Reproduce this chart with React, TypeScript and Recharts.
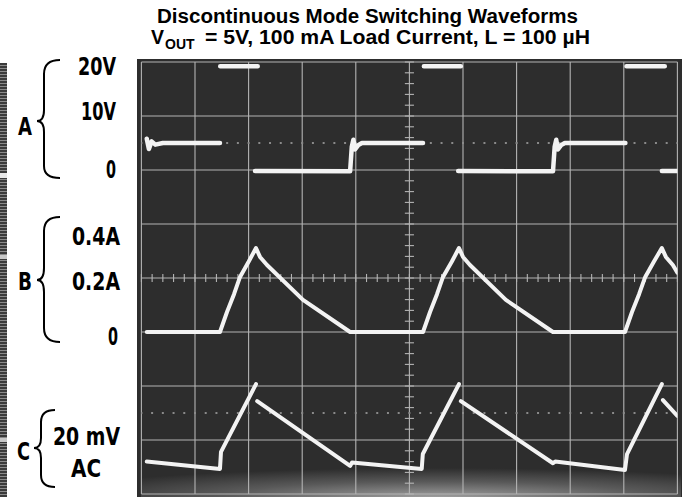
import React from 'react';
import { LineChart, Line, XAxis, YAxis, ReferenceLine } from 'recharts';

// Time axis in graticule divisions (10 divisions across the screen)
// Channel A: switch node voltage (V), 10 V/div
const aTime = [0.10, 0.14, 0.19, 0.26, 0.40, 1.466, 1.468, 1.47, 2.17, 2.171, 2.12, 3.894, 3.925, 3.955, 3.985, 4.045, 4.115, 5.254, 5.26, 5.27, 5.96, 5.961, 5.91, 7.679, 7.71, 7.74, 7.77, 7.83, 7.9, 9.03, 9.04, 9.05, 9.765, 9.766, 9.71, 10];
const aVolts = [5.8, 3.9, 5.3, 4.7, 5.0, 5.0, null, 19.2, 19.2, null, -0.2, -0.25, 4.3, 5.6, 3.8, 4.6, 5.0, 5.0, null, 19.2, 19.2, null, -0.2, -0.25, 4.3, 5.6, 3.8, 4.6, 5.0, 5.0, null, 19.2, 19.2, null, -0.2, -0.2];

// Channel B: inductor current (A), 0.2 A/div
const bTime = [0.10, 1.466, 1.597, 1.728, 1.84, 2.0, 2.138, 2.213, 2.343, 3.015, 3.894, 5.254, 5.385, 5.515, 5.627, 5.79, 5.925, 6.0, 6.13, 6.80, 7.679, 9.022, 9.153, 9.285, 9.4, 9.56, 9.71, 9.785, 9.915, 10];
const bAmps = [0, 0, 0.074, 0.14, 0.204, 0.26, 0.311, 0.278, 0.248, 0.119, 0, 0, 0.074, 0.14, 0.204, 0.26, 0.311, 0.278, 0.248, 0.119, 0, 0, 0.074, 0.14, 0.204, 0.26, 0.311, 0.278, 0.248, 0.22];

// Channel C: output ripple (mV, AC coupled), 20 mV/div
const cTime = [0.10, 1.466, 1.485, 2.138, 2.15, 2.16, 3.894, 3.93, 5.23, 5.25, 5.925, 5.94, 5.96, 7.679, 7.72, 9.022, 9.06, 9.71, 9.72, 9.73, 10];
const cMilliVolts = [-18.0, -20.7, -14.4, 10.7, null, 4.4, -19.6, -18.3, -20.7, -15.2, 10.7, null, 4.4, -18.6, -18.0, -21.1, -15.2, 10.7, null, 4.8, -1.1];

// Graticule
const gridX = [0, 1, 2, 3, 4, 5, 6, 7, 8, 9, 10];
const gridY = [0, 1, 2, 3, 4, 5, 6, 7, 8];
const minorX = Array.from({ length: 51 }, (_, i) => i / 5);
const minorY = Array.from({ length: 41 }, (_, i) => i / 5);

const aData = aTime.map((t, i) => ({ t, v: aVolts[i] }));
const bData = bTime.map((t, i) => ({ t, v: bAmps[i] }));
const cData = cTime.map((t, i) => ({ t, v: cMilliVolts[i] }));

const titleLine1 = 'Discontinuous Mode Switching Waveforms';
const titleLine2Rest = '= 5V, 100 mA Load Current, L = 100 µH';

const W = 683;
const H = 497;
const gridColor = '#b4b4b4';
const traceColor = '#f3f3f3';
const labelFont = '"DejaVu Sans Condensed", "Liberation Sans", sans-serif';

const Lbl = ({ x, y, w, anchor = 'end', children }: any) => (
  <text x={x} y={y} textAnchor={anchor} textLength={w} lengthAdjust="spacingAndGlyphs">{children}</text>
);

export default function App() {
  return (
    <div style={{ position: 'fixed', left: 0, top: 0, width: W, height: H, background: '#ffffff', overflow: 'hidden' }}>
      {/* scope screen */}
      <div style={{ position: 'absolute', left: 137, top: 59, width: 545, height: 440, background: '#2d2d2d' }} />
      <div style={{ position: 'absolute', left: 141, top: 468, width: 540, height: 30, background: 'radial-gradient(ellipse 75% 100% at 55% 100%, rgba(200,200,200,0.75) 0%, rgba(170,170,170,0.35) 55%, rgba(160,160,160,0) 100%)' }} />
      {/* left scan strip */}
      <div style={{ position: 'absolute', left: 0, top: 63, width: 7, height: 434, background: 'repeating-linear-gradient(to bottom, #3a3a3a 0px, #3a3a3a 2px, #8a8a8a 2px, #8a8a8a 3px)' }} />
      <div style={{ position: 'absolute', left: 0, top: 173, width: 7, height: 5, background: '#e8e8e8' }} />
      <div style={{ position: 'absolute', left: 0, top: 255, width: 7, height: 4, background: '#c8c8c8' }} />
      <div style={{ position: 'absolute', left: 0, top: 438, width: 7, height: 4, background: '#c8c8c8' }} />

      <div style={{ position: 'absolute', left: 0, top: 0 }}>
        <LineChart width={W} height={H} margin={{ top: 62, right: 5.6, bottom: 3, left: 141.4 }}>
          <XAxis type="number" dataKey="t" domain={[0, 10]} hide allowDataOverflow />
          <YAxis yAxisId="div" type="number" domain={[0, 8]} reversed hide allowDataOverflow />
          <YAxis yAxisId="A" type="number" domain={[-60, 20]} hide allowDataOverflow />
          <YAxis yAxisId="B" type="number" domain={[-0.6, 1.0]} hide allowDataOverflow />
          <YAxis yAxisId="C" type="number" domain={[-30, 130]} hide allowDataOverflow />

          {gridX.map((x) => (
            <ReferenceLine key={'gx' + x} yAxisId="div" x={x} stroke={gridColor} strokeWidth={1.1} />
          ))}
          {gridY.map((y) => (
            <ReferenceLine key={'gy' + y} yAxisId="div" y={y} stroke={gridColor} strokeWidth={1.1} />
          ))}
          {minorY.map((y) => (
            <ReferenceLine key={'my' + y} yAxisId="div" segment={[{ x: 4.915, y }, { x: 5.085, y }]} stroke={gridColor} strokeWidth={1.1} />
          ))}
          {minorX.map((x) => (
            <ReferenceLine key={'mx' + x} yAxisId="div" segment={[{ x, y: 3.925 }, { x, y: 4.075 }]} stroke={gridColor} strokeWidth={1.1} />
          ))}
          <ReferenceLine yAxisId="div" y={1.5} stroke="#8a8a8a" strokeWidth={2} strokeDasharray="2 8.72" strokeDashoffset={1} />
          <ReferenceLine yAxisId="div" y={6.5} stroke="#8a8a8a" strokeWidth={2} strokeDasharray="2 8.72" strokeDashoffset={1} />

          <Line data={aData} dataKey="v" yAxisId="A" type="linear" stroke={traceColor} strokeWidth={4.5} dot={false} isAnimationActive={false} strokeLinejoin="round" strokeLinecap="round" />
          <Line data={bData} dataKey="v" yAxisId="B" type="linear" stroke={traceColor} strokeWidth={4} dot={false} isAnimationActive={false} strokeLinejoin="round" strokeLinecap="round" />
          <Line data={cData} dataKey="v" yAxisId="C" type="linear" stroke={traceColor} strokeWidth={4} dot={false} isAnimationActive={false} strokeLinejoin="round" strokeLinecap="round" />
        </LineChart>
      </div>

      {/* title and channel labels */}
      <svg width={W} height={H} style={{ position: 'absolute', left: 0, top: 0, pointerEvents: 'none' }}>
        <g fontFamily='"Liberation Sans", Arial, sans-serif' fontWeight="bold" fill="#000">
          <text x={157} y={22.5} fontSize={19.5} textLength={421} lengthAdjust="spacingAndGlyphs">{titleLine1}</text>
          <text x={151} y={44} fontSize={19.5}>V</text>
          <text x={165} y={48.5} fontSize={14}>OUT</text>
          <text x={205} y={44} fontSize={19.5} textLength={385} lengthAdjust="spacingAndGlyphs">{titleLine2Rest}</text>
        </g>
        <g fontFamily={labelFont} fontWeight="bold" fill="#000" fontSize={24}>
          <Lbl x={116} y={75} w={38}>20V</Lbl>
          <Lbl x={116} y={120} w={35}>10V</Lbl>
          <Lbl x={116} y={178} w={10}>0</Lbl>
          <Lbl x={120} y={245} w={48}>0.4A</Lbl>
          <Lbl x={120} y={290} w={48}>0.2A</Lbl>
          <Lbl x={118} y={345} w={10}>0</Lbl>
          <Lbl x={120} y={445} w={67}>20 mV</Lbl>
          <Lbl x={86} y={477} w={30} anchor="middle">AC</Lbl>
          <Lbl x={18} y={135} w={14} anchor="start">A</Lbl>
          <Lbl x={18} y={290} w={14} anchor="start">B</Lbl>
          <Lbl x={17} y={460} w={13} anchor="start">C</Lbl>
        </g>
        <g fill="none" stroke="#000" strokeWidth={2}>
          <path d="M60,60 Q44,60 44,74 L44,110 Q44,121 37,121 Q44,121 44,132 L44,166 Q44,178 60,178" />
          <path d="M60,217 Q44,217 44,231 L44,268 Q44,280 37,280 Q44,280 44,292 L44,328 Q44,342 60,342" />
          <path d="M55,410 Q41,410 41,422 L41,438 Q41,448 34,448 Q41,448 41,458 L41,475 Q41,487 55,487" />
        </g>
      </svg>
    </div>
  );
}
